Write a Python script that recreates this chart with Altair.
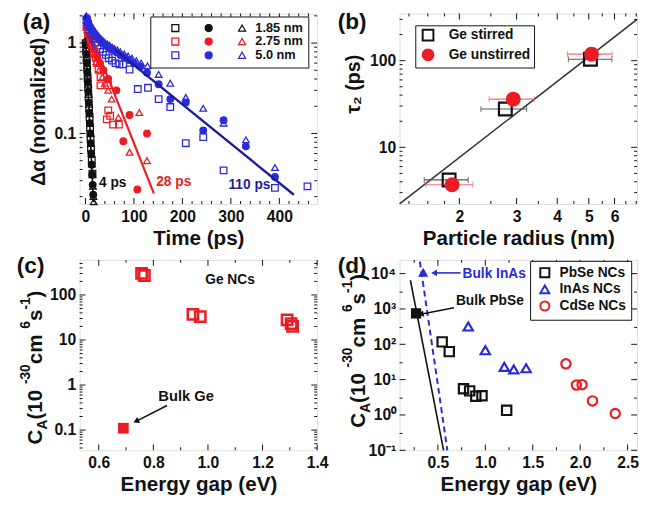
import altair as alt
import pandas as pd

FONT = "Liberation Sans"
BLK = "#111111"
RED = "#ec1c24"
BLUE = "#2b2bd9"
NAVY = "#1c1c9a"

# ---------------- Panel (a): decay traces ----------------
a_k_sq_t = [0.5, 1.5, 2.5, 3.5, 4.5, 5.5, 6.5, 7.5, 8.5, 9.5, 10.5, 11.5, 13, 14.5]
a_k_sq_v = [1.0, 0.82, 0.66, 0.52, 0.41, 0.32, 0.25, 0.19, 0.15, 0.115, 0.088, 0.068, 0.05, 0.036]
a_k_ci_t = [1, 2, 3, 4, 5, 6, 7, 8, 9, 10, 11, 12, 13, 14, 15, 16]
a_k_ci_v = [0.95, 0.75, 0.6, 0.47, 0.37, 0.29, 0.22, 0.17, 0.13, 0.1, 0.078, 0.06, 0.045, 0.035, 0.027, 0.021]
a_k_tr_t = [0.5, 1.5, 2.5, 3.5, 4.5, 5.5, 6.5, 7.5, 8.5, 9.5, 10.5, 11.5, 12.5, 13.5, 14.5, 15.5, 16.5, 17]
a_k_tr_v = [1.1, 0.88, 0.7, 0.56, 0.44, 0.35, 0.27, 0.21, 0.165, 0.13, 0.1, 0.078, 0.06, 0.046, 0.035, 0.026, 0.02, 0.0175]

a_r_sq_t = [2, 5, 7, 10, 14, 17, 21, 24, 27, 31, 31, 47, 47, 51, 44, 57, 69]
a_r_sq_v = [1.5, 1.3, 1.19, 1.0, 0.89, 0.78, 0.69, 0.6, 0.52, 0.42, 0.34, 0.34, 0.18, 0.157, 0.143, 0.125, 0.125]
a_r_ci_t = [3, 7, 11, 17, 24, 30, 37, 47, 64, 91, 78, 127, 107]
a_r_ci_v = [1.5, 1.2, 1.05, 0.85, 0.72, 0.6, 0.5, 0.4, 0.3, 0.16, 0.082, 0.1, 0.024]
a_r_tr_t = [4, 9, 13, 17, 22, 28, 35, 40, 47, 54, 68, 111, 91, 127]
a_r_tr_v = [1.4, 1.15, 0.95, 0.75, 0.62, 0.5, 0.42, 0.36, 0.3, 0.24, 0.15, 0.17, 0.062, 0.05]

a_b_sq_t = [2, 5, 8, 12, 16, 20, 25, 30, 36, 42, 48, 55, 62, 70, 78, 91, 108, 129, 151, 175, 207, 243, 285, 391, 458]
a_b_sq_v = [1.8, 1.6, 1.4, 1.25, 1.12, 1.02, 0.94, 0.86, 0.8, 0.74, 0.68, 0.64, 0.6, 0.58, 0.58, 0.51, 0.31, 0.32, 0.24, 0.196, 0.078, 0.091, 0.039, 0.025, 0.026]
a_b_ci_t = [3, 6, 10, 14, 18, 22, 27, 32, 38, 44, 50, 57, 64, 72, 80, 90, 100, 113, 127, 151, 175, 207, 243, 285, 331, 391]
a_b_ci_v = [1.9, 1.7, 1.5, 1.38, 1.28, 1.2, 1.12, 1.05, 0.98, 0.93, 0.88, 0.83, 0.79, 0.74, 0.7, 0.65, 0.6, 0.55, 0.47, 0.35, 0.24, 0.22, 0.108, 0.14, 0.072, 0.033]
a_b_tr_t = [2, 5, 8, 11, 14, 17, 20, 24, 28, 32, 36, 40, 45, 50, 55, 60, 66, 72, 80, 88, 96, 105, 115, 128, 151, 175, 207, 243, 285, 331, 391]
a_b_tr_v = [2.0, 1.85, 1.7, 1.58, 1.48, 1.4, 1.33, 1.25, 1.18, 1.12, 1.07, 1.02, 0.98, 0.94, 0.9, 0.87, 0.84, 0.8, 0.76, 0.72, 0.68, 0.64, 0.6, 0.56, 0.45, 0.36, 0.25, 0.19, 0.13, 0.085, 0.042]

a_fit_k_t = [0, 16.5]
a_fit_k_v = [1.15, 0.0175]
a_fit_r_t = [20, 141]
a_fit_r_v = [0.95, 0.0217]
a_fit_b_t = [60, 430]
a_fit_b_v = [0.85, 0.021]

a_keys = ["k_sq", "k_ci", "k_tr", "r_sq", "r_ci", "r_tr", "b_sq", "b_ci", "b_tr"]
a_sizes = ["1.85 nm", "2.75 nm", "5.0 nm"]
a_xmaj = [0, 100, 200, 300, 400]
a_xmin = [20, 40, 60, 80, 120, 140, 160, 180, 220, 240, 260, 280, 320, 340, 360, 380, 420, 440, 460]
a_ymaj = [0.1, 1]
a_ymin = [0.02, 0.03, 0.04, 0.05, 0.06, 0.07, 0.08, 0.09, 0.2, 0.3, 0.4, 0.5, 0.6, 0.7, 0.8, 0.9, 2]

# ---------------- Panel (b): tau2 vs radius ----------------
b_grp = ["Ge stirred", "Ge stirred", "Ge stirred", "Ge unstirred", "Ge unstirred", "Ge unstirred"]
b_r = [1.86, 2.77, 5.06, 1.90, 2.93, 5.10]
b_tau = [4.2, 27.7, 104, 3.7, 36, 119]
b_lo = [1.56, 2.33, 4.33, 1.58, 2.47, 4.30]
b_hi = [2.13, 3.22, 5.89, 2.20, 3.40, 5.90]
b_fit_r = [1.31, 7.04]
b_fit_tau = [2.22, 300]
b_xmaj = [2, 3, 4, 5, 6]
b_xmin = [1.4, 1.6, 1.8, 2.5, 3.5, 4.5, 5.5, 6.5, 7]
b_ymaj = [10, 100]
b_ymin = [3, 4, 5, 6, 7, 8, 9, 20, 30, 40, 50, 60, 70, 80, 90, 200, 300]

# ---------------- Panel (c): Ge C_A ----------------
c_nc_e = [0.757, 0.767, 0.945, 0.972, 1.29, 1.305, 1.31]
c_nc_ca = [300, 270, 37, 33, 28, 23, 20]
c_bulk_e = [0.69]
c_bulk_ca = [0.11]
c_arrow_e = [0.85, 0.74]
c_arrow_ca = [0.35, 0.16]
c_xmaj = [0.6, 0.8, 1.0, 1.2, 1.4]
c_xmin = [0.7, 0.9, 1.1, 1.3]
c_ymaj = [0.1, 1, 10, 100]
c_ymin = [0.04, 0.05, 0.06, 0.07, 0.08, 0.09, 0.2, 0.3, 0.4, 0.5, 0.6, 0.7, 0.8, 0.9,
          2, 3, 4, 5, 6, 7, 8, 9, 20, 30, 40, 50, 60, 70, 80, 90, 200, 300, 400, 500]

# ---------------- Panel (d): other NCs ----------------
d_pbse_e = [0.545, 0.62, 0.77, 0.835, 0.90, 0.965, 1.225]
d_pbse_ca = [117, 62, 5.5, 4.8, 3.4, 3.5, 1.35]
d_inas_e = [0.82, 1.0, 1.20, 1.30, 1.43]
d_inas_ca = [320, 68, 23, 19.5, 21]
d_cdse_e = [1.85, 1.96, 2.02, 2.13, 2.37]
d_cdse_ca = [28, 7.0, 7.2, 2.5, 1.1]
d_bulk_pbse = (0.27, 750)
d_bulk_inas = (0.345, 11000)
d_line_pbse_e = [0.21, 0.56]
d_line_pbse_ca = [6500, 0.1]
d_line_inas_e = [0.31, 0.60]
d_line_inas_ca = [22000, 0.1]
d_arr_inas_e = [0.74, 0.47]
d_arr_inas_ca = [10500, 10500]
d_arr_pbse_e = [0.67, 0.33]
d_arr_pbse_ca = [1080, 720]
d_materials = ["PbSe NCs", "InAs NCs", "CdSe NCs"]
d_xmaj = [0.5, 1.0, 1.5, 2.0, 2.5]
d_xmin = [0.25, 0.75, 1.25, 1.75, 2.25]
d_ymaj = [0.1, 1, 10, 100, 1000, 10000]
d_ymin = [0.3, 3, 30, 300, 3000]
d_ylabels = ["10⁻¹", "10⁰", "10¹", "10²", "10³", "10⁴"]

W, H = 242, 194
MAJ, MIN = 6, 3

CW = {' ': 0.278, '(': 0.333, ')': 0.333, '-': 0.333, '0': 0.556, '1': 0.556, '2': 0.556,
      '3': 0.556, '6': 0.556, 'A': 0.722, 'C': 0.722, 'c': 0.556, 'm': 0.889, 's': 0.556,
      'p': 0.611, 'τ': 0.58}


def axis(values, fmt=None, expr=None, title=None, pad=5):
    kw = dict(values=values, grid=False, domain=False, ticks=False, labelFont=FONT,
              labelFontSize=16, labelFontWeight="bold", labelColor=BLK, labelPadding=pad,
              labelFlush=False, labelOverlap=False, titleFont=FONT, titleFontSize=21,
              titleFontWeight="bold", titleColor=BLK, titlePadding=3)
    kw["title"] = title
    if fmt:
        kw["format"] = fmt
    if expr:
        kw["labelExpr"] = expr
    return alt.Axis(**kw)


def txt(s, x, y, size, color=BLK, align="left", baseline="alphabetic", angle=0):
    return alt.Chart(pd.DataFrame({"s": [s]})).mark_text(
        align=align, baseline=baseline, font=FONT, fontSize=size, fontWeight="bold",
        color=color, angle=angle).encode(x=alt.value(x), y=alt.value(y), text="s:N")


def vtitle(pieces, x0, y0):
    out = []
    y = y0
    for s, size, dx in pieces:
        out.append(txt(s, x0 + dx, y, size, angle=270))
        y -= sum(CW[ch] for ch in s) * size
    return out


def XY(xf, yf, xs, ys):
    return dict(x=alt.X(f"{xf}:Q", scale=xs), y=alt.Y(f"{yf}:Q", scale=ys))


def dtext(s, xv, yv, xf, yf, xs, ys, size, color, align="left"):
    df = pd.DataFrame({xf: [xv], yf: [yv], "s": [s]})
    return alt.Chart(df).mark_text(align=align, baseline="middle", font=FONT, fontSize=size,
                                   fontWeight="bold", color=color).encode(
        text="s:N", **XY(xf, yf, xs, ys))


def fitline(ts, vs, color, width, xs, ys, xf, yf, dash=None):
    df = pd.DataFrame({xf: ts, yf: vs})
    kw = dict(color=color, strokeWidth=width)
    if dash:
        kw["strokeDash"] = dash
    return alt.Chart(df).mark_line(**kw).encode(**XY(xf, yf, xs, ys))


def frame_ticks(xf, yf, xs, ys, xmaj, xmin, ymaj, ymin):
    out = []
    for vals, sz in [(xmaj, MAJ), (xmin, MIN)]:
        df = pd.DataFrame({xf: vals})
        for ypix in [H - sz / 2, sz / 2]:
            out.append(alt.Chart(df).mark_tick(orient="vertical", size=sz, thickness=1,
                                               color=BLK, opacity=1).encode(
                x=alt.X(f"{xf}:Q", scale=xs), y=alt.value(ypix)))
    for vals, sz in [(ymaj, MAJ), (ymin, MIN)]:
        df = pd.DataFrame({yf: vals})
        for xpix in [sz / 2, W - sz / 2]:
            out.append(alt.Chart(df).mark_tick(orient="horizontal", size=sz, thickness=1,
                                               color=BLK, opacity=1).encode(
                y=alt.Y(f"{yf}:Q", scale=ys), x=alt.value(xpix)))
    return out


def arrow(es, cs, color, angle, xs, ys):
    df = pd.DataFrame({"e": [es[0]], "ca": [cs[0]], "e2": [es[1]], "ca2": [cs[1]]})
    r = alt.Chart(df).mark_rule(color=color, strokeWidth=1.6).encode(
        x2="e2:Q", y2="ca2:Q", **XY("e", "ca", xs, ys))
    h = alt.Chart(pd.DataFrame({"e": [es[1]], "ca": [cs[1]]})).mark_point(
        shape="triangle", filled=True, color=color, size=45, opacity=1, angle=angle).encode(
        **XY("e", "ca", xs, ys))
    return [r, h]


# ======== Panel (a) ========
rows = []
series = [(a_k_sq_t, a_k_sq_v, "k_sq"), (a_k_ci_t, a_k_ci_v, "k_ci"), (a_k_tr_t, a_k_tr_v, "k_tr"),
          (a_r_sq_t, a_r_sq_v, "r_sq"), (a_r_ci_t, a_r_ci_v, "r_ci"), (a_r_tr_t, a_r_tr_v, "r_tr"),
          (a_b_sq_t, a_b_sq_v, "b_sq"), (a_b_ci_t, a_b_ci_v, "b_ci"), (a_b_tr_t, a_b_tr_v, "b_tr")]
for ts, vs, k in series:
    for t, v in zip(ts, vs):
        rows.append({"t": t, "v": v, "key": k})
dfA = pd.DataFrame(rows)

xA = alt.Scale(domain=[-12, 478], nice=False, zero=False)
yA = alt.Scale(type="log", domain=[0.0166, 2.12], nice=False)

legA = alt.Legend(
    orient="none", legendX=72, legendY=3, columns=3, title=None, direction="horizontal",
    labelExpr="datum.label == 'k_tr' ? '1.85 nm' : datum.label == 'r_tr' ? '2.75 nm' : datum.label == 'b_tr' ? '5.0 nm' : ''",
    strokeColor=BLK, fillColor="white", padding=5, cornerRadius=0, symbolSize=50,
    symbolStrokeWidth=1.3, labelFont=FONT, labelFontSize=13, labelFontWeight="bold",
    labelColor=BLK, labelOffset=7, symbolOffset=14, columnPadding=-3, rowPadding=0)

shapesA = ["square", "circle", "triangle-up"] * 3
strokeA = [BLK] * 3 + [RED] * 3 + [BLUE] * 3
fillA = ["transparent", BLK, "transparent", "transparent", RED, "transparent",
         "transparent", BLUE, "transparent"]

ptsA = alt.Chart(dfA).mark_point(opacity=1, strokeWidth=1.3, size=45).encode(
    x=alt.X("t:Q", scale=xA, axis=axis(a_xmaj, title="Time (ps)")),
    y=alt.Y("v:Q", scale=yA, axis=axis(a_ymaj, fmt="~g", pad=4)),
    shape=alt.Shape("key:N", scale=alt.Scale(domain=a_keys, range=shapesA), legend=legA),
    stroke=alt.Stroke("key:N", scale=alt.Scale(domain=a_keys, range=strokeA), legend=legA),
    fill=alt.Fill("key:N", scale=alt.Scale(domain=a_keys, range=fillA), legend=legA),
)

panelA = alt.layer(
    ptsA,
    *frame_ticks("t", "v", xA, yA, a_xmaj, a_xmin, a_ymaj, a_ymin),
    fitline(a_fit_k_t, a_fit_k_v, BLK, 1.6, xA, yA, "t", "v"),
    fitline(a_fit_r_t, a_fit_r_v, RED, 2.2, xA, yA, "t", "v"),
    fitline(a_fit_b_t, a_fit_b_v, NAVY, 2.4, xA, yA, "t", "v"),
    dtext("4 ps", 28, 0.028, "t", "v", xA, yA, 14, BLK),
    dtext("28 ps", 146, 0.029, "t", "v", xA, yA, 14, RED),
    dtext("110 ps", 295, 0.027, "t", "v", xA, yA, 14, NAVY),
    txt("(a)", -58, 16, 23),
    txt("Δα (normalized)", -35, 100, 20, align="center", angle=270),
).properties(width=W, height=H)

# ======== Panel (b) ========
dfB = pd.DataFrame({"r": b_r, "tau": b_tau, "lo": b_lo, "hi": b_hi, "grp": b_grp})
xB = alt.Scale(type="log", domain=[1.31, 7.04], nice=False)
yB = alt.Scale(type="log", domain=[2.22, 350], nice=False)
legB = alt.Legend(orient="none", legendX=16, legendY=12, title=None, strokeColor=BLK,
                  fillColor="white", padding=3, cornerRadius=0, symbolSize=120,
                  symbolStrokeWidth=2, labelFont=FONT, labelFontSize=14, labelFontWeight="bold",
                  labelColor=BLK, labelOffset=14, rowPadding=0, symbolOffset=3)
grpB = ["Ge stirred", "Ge unstirred"]


def errbars(grp, color):
    base = alt.Chart(dfB).transform_filter(alt.datum.grp == grp)
    rule = base.mark_rule(color=color, strokeWidth=1.2).encode(
        x=alt.X("lo:Q", scale=xB), x2="hi:Q", y=alt.Y("tau:Q", scale=yB))
    cap1 = base.mark_tick(color=color, orient="vertical", size=6, thickness=1.2).encode(
        x=alt.X("lo:Q", scale=xB), y=alt.Y("tau:Q", scale=yB))
    cap2 = base.mark_tick(color=color, orient="vertical", size=6, thickness=1.2).encode(
        x=alt.X("hi:Q", scale=xB), y=alt.Y("tau:Q", scale=yB))
    return [rule, cap1, cap2]


ptsB = alt.Chart(dfB).mark_point(opacity=1, strokeWidth=2.2, size=170).encode(
    x=alt.X("r:Q", scale=xB, axis=axis(b_xmaj, fmt="~g", title="Particle radius (nm)")),
    y=alt.Y("tau:Q", scale=yB, axis=axis(b_ymaj, fmt="~g", pad=4)),
    shape=alt.Shape("grp:N", scale=alt.Scale(domain=grpB, range=["square", "circle"]), legend=legB),
    stroke=alt.Stroke("grp:N", scale=alt.Scale(domain=grpB, range=[BLK, RED]), legend=legB),
    fill=alt.Fill("grp:N", scale=alt.Scale(domain=grpB, range=["transparent", RED]), legend=legB),
)

panelB = alt.layer(
    fitline(b_fit_r, b_fit_tau, "#333333", 1.6, xB, yB, "r", "tau"),
    *frame_ticks("r", "tau", xB, yB, b_xmaj, b_xmin, b_ymaj, b_ymin),
    *errbars("Ge stirred", "#555555"),
    *errbars("Ge unstirred", "#f07070"),
    ptsB,
    txt("(b)", -63, 16, 23),
    txt("τ₂ (ps)", -40, 72, 20, align="center", angle=270),
).properties(width=W, height=H)

# ======== Panel (c) ========
xC = alt.Scale(domain=[0.53, 1.40], nice=False, zero=False)
yC = alt.Scale(type="log", domain=[0.0356, 600], nice=False)
dfC = pd.DataFrame({"e": c_nc_e, "ca": c_nc_ca})
ptsC = alt.Chart(dfC).mark_point(shape="square", color=RED, strokeWidth=2.6, size=110,
                                 opacity=1).encode(
    x=alt.X("e:Q", scale=xC, axis=axis(c_xmaj, fmt=".1f", title="Energy gap (eV)")),
    y=alt.Y("ca:Q", scale=yC, axis=axis(c_ymaj, fmt="~g", pad=4)))
bulkC = alt.Chart(pd.DataFrame({"e": c_bulk_e, "ca": c_bulk_ca})).mark_point(
    shape="square", filled=True, color=RED, size=120, opacity=1).encode(**XY("e", "ca", xC, yC))

titleCA = [("C", 21, 0), ("A", 14, 5), (" (10", 21, 0), ("-30", 14, -13), (" cm", 21, 0),
           ("6", 14, -13), ("s", 21, 0), ("-1", 14, -13), (")", 21, 0)]

panelC = alt.layer(
    ptsC,
    *frame_ticks("e", "ca", xC, yC, c_xmaj, c_xmin, c_ymaj, c_ymin),
    bulkC,
    *arrow(c_arrow_e, c_arrow_ca, BLK, 243, xC, yC),
    dtext("Ge NCs", 0.99, 209, "e", "ca", xC, yC, 14, BLK),
    dtext("Bulk Ge", 0.92, 0.56, "e", "ca", xC, yC, 15, BLK, align="center"),
    txt("(c)", -64, 13, 23),
    *vtitle(titleCA, -38, 188),
).properties(width=W, height=H)

# ======== Panel (d) ========
xD = alt.Scale(domain=[0.096, 2.60], nice=False, zero=False)
yD = alt.Scale(type="log", domain=[0.1, 24500], nice=False)
rowsD = []
for m, es, cs in [("PbSe NCs", d_pbse_e, d_pbse_ca), ("InAs NCs", d_inas_e, d_inas_ca),
                  ("CdSe NCs", d_cdse_e, d_cdse_ca)]:
    for e, c in zip(es, cs):
        rowsD.append({"e": e, "ca": c, "mat": m})
dfD = pd.DataFrame(rowsD)
legD = alt.Legend(orient="none", legendX=133, legendY=1, title=None, strokeColor=BLK,
                  fillColor="white", padding=5, cornerRadius=0, symbolSize=85,
                  symbolStrokeWidth=2, labelFont=FONT, labelFontSize=14, labelFontWeight="bold",
                  labelColor=BLK, labelOffset=8, symbolOffset=3, rowPadding=0)
supers = "[" + ",".join(f"'{s}'" for s in d_ylabels) + "][round(log(datum.value)/LN10)+1]"
ptsD = alt.Chart(dfD).mark_point(opacity=1, strokeWidth=2.2, size=90, filled=False).encode(
    x=alt.X("e:Q", scale=xD, axis=axis(d_xmaj, fmt=".1f", title="Energy gap (eV)")),
    y=alt.Y("ca:Q", scale=yD, axis=axis(d_ymaj, expr=supers, pad=4)),
    shape=alt.Shape("mat:N", scale=alt.Scale(domain=d_materials,
                                             range=["square", "triangle-up", "circle"]), legend=legD),
    stroke=alt.Stroke("mat:N", scale=alt.Scale(domain=d_materials, range=[BLK, BLUE, RED]),
                      legend=legD),
)
bulkPbSe = alt.Chart(pd.DataFrame({"e": [d_bulk_pbse[0]], "ca": [d_bulk_pbse[1]]})).mark_point(
    shape="square", filled=True, color=BLK, size=110, opacity=1).encode(**XY("e", "ca", xD, yD))
bulkInAs = alt.Chart(pd.DataFrame({"e": [d_bulk_inas[0]], "ca": [d_bulk_inas[1]]})).mark_point(
    shape="triangle-up", filled=True, color=BLUE, size=110, opacity=1).encode(
    **XY("e", "ca", xD, yD))

panelD = alt.layer(
    ptsD,
    *frame_ticks("e", "ca", xD, yD, d_xmaj, d_xmin, d_ymaj, d_ymin),
    fitline(d_line_pbse_e, d_line_pbse_ca, BLK, 1.6, xD, yD, "e", "ca"),
    fitline(d_line_inas_e, d_line_inas_ca, BLUE, 2.0, xD, yD, "e", "ca", dash=[6, 4]),
    bulkPbSe, bulkInAs,
    *arrow(d_arr_inas_e, d_arr_inas_ca, BLUE, 270, xD, yD),
    *arrow(d_arr_pbse_e, d_arr_pbse_ca, BLK, 258, xD, yD),
    dtext("Bulk InAs", 0.76, 10000, "e", "ca", xD, yD, 14, BLUE),
    dtext("Bulk PbSe", 0.69, 1670, "e", "ca", xD, yD, 14, BLK),
    txt("(d)", -63, 13, 23),
    *vtitle(titleCA, -35, 171),
).properties(width=W, height=H)

chart = alt.concat(panelA, panelB, panelC, panelD, columns=2,
                   spacing={"row": 57, "column": 84}, bounds="flush").resolve_scale(
    x="independent", y="independent",
    shape="independent", stroke="independent", fill="independent"
).properties(padding={"left": 8, "top": -3, "right": 0, "bottom": 0}).configure_view(
    stroke=BLK, strokeWidth=1.3).configure(background="white")

chart.save("out.html", embed_options={"renderer": "svg", "actions": False})
